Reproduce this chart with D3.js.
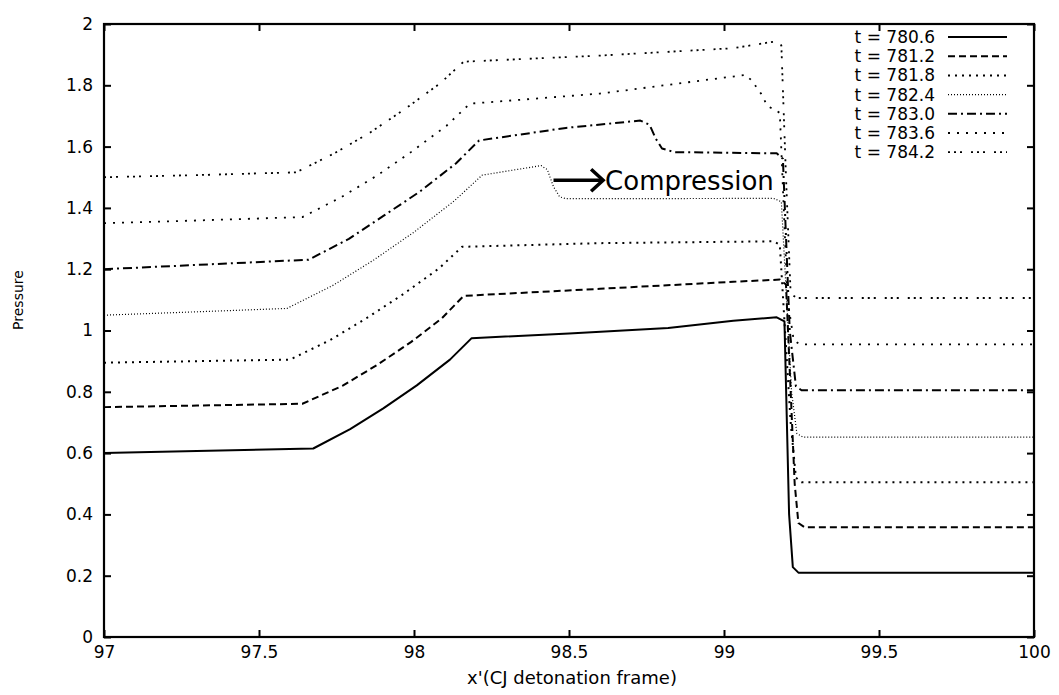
<!DOCTYPE html>
<html>
<head>
<meta charset="utf-8">
<script src="https://cdn.jsdelivr.net/npm/d3@7"></script>
<style>
  body { margin: 0; background: #fff; }
  svg { display: block; }
  .tick text { font-family: "DejaVu Sans", sans-serif; font-size: 17px; fill: #000; }
</style>
</head>
<body>
<svg id="chart" width="1059" height="695"></svg>
<script>
// Data
const xTicks = [97, 97.5, 98, 98.5, 99, 99.5, 100];
const yTicks = [0, 0.2, 0.4, 0.6, 0.8, 1, 1.2, 1.4, 1.6, 1.8, 2];

const times = ['780.6', '781.2', '781.8', '782.4', '783.0', '783.6', '784.2'];

// pressure profiles, [x', p]
const p_780_6 = [[97, 0.60], [97.3, 0.607], [97.675, 0.615], [97.794, 0.678], [97.901, 0.746], [98.009, 0.821],
  [98.116, 0.905], [98.186, 0.975], [98.5, 0.99], [98.82, 1.008], [99.03, 1.032], [99.17, 1.043],
  [99.195, 1.03], [99.21, 0.4], [99.222, 0.228], [99.24, 0.21], [100, 0.21]];
const p_781_2 = [[97, 0.75], [97.3, 0.755], [97.64, 0.761], [97.77, 0.82], [97.88, 0.887], [97.99, 0.962],
  [98.09, 1.04], [98.16, 1.113], [98.6, 1.136], [99.03, 1.159], [99.18, 1.166], [99.2, 1.15],
  [99.228, 0.5], [99.24, 0.372], [99.26, 0.358], [100, 0.358]];
const p_781_8 = [[97, 0.895], [97.3, 0.9], [97.6, 0.905], [97.73, 0.969], [97.845, 1.039], [97.96, 1.115],
  [98.08, 1.202], [98.155, 1.273], [98.6, 1.285], [99.16, 1.291], [99.18, 1.28], [99.215, 0.7],
  [99.232, 0.52], [99.25, 0.505], [100, 0.505]];
const p_782_4 = [[97, 1.05], [97.3, 1.061], [97.59, 1.072], [97.74, 1.148], [97.87, 1.23], [98.0, 1.321],
  [98.13, 1.423], [98.22, 1.507], [98.41, 1.538], [98.43, 1.525], [98.45, 1.469], [98.47, 1.436],
  [98.49, 1.43], [99.16, 1.431], [99.185, 1.42], [99.218, 0.8], [99.235, 0.664], [99.255, 0.652], [100, 0.652]];
const p_783_0 = [[97, 1.2], [97.3, 1.214], [97.66, 1.231], [97.79, 1.299], [97.9, 1.373], [98.02, 1.454],
  [98.135, 1.545], [98.21, 1.62], [98.49, 1.661], [98.73, 1.685], [98.76, 1.671], [98.78, 1.626],
  [98.8, 1.594], [98.84, 1.582], [99.17, 1.578], [99.19, 1.56], [99.212, 1.0], [99.232, 0.818],
  [99.25, 0.805], [100, 0.805]];
const p_783_6 = [[97, 1.35], [97.3, 1.359], [97.64, 1.37], [97.765, 1.435], [97.88, 1.505], [97.99, 1.582],
  [98.105, 1.668], [98.18, 1.74], [98.6, 1.773], [99.07, 1.834], [99.09, 1.815], [99.12, 1.772],
  [99.14, 1.732], [99.16, 1.722], [99.18, 1.71], [99.205, 1.1], [99.225, 0.968], [99.245, 0.955], [100, 0.955]];
const p_784_2 = [[97, 1.5], [97.3, 1.507], [97.62, 1.516], [97.745, 1.579], [97.86, 1.647], [97.97, 1.722],
  [98.085, 1.807], [98.16, 1.877], [98.6, 1.897], [99.03, 1.921], [99.17, 1.944], [99.185, 1.93],
  [99.2, 1.5], [99.215, 1.12], [99.235, 1.106], [100, 1.106]];

const profiles = [p_780_6, p_781_2, p_781_8, p_782_4, p_783_0, p_783_6, p_784_2];

// gnuplot-ish line types
const dashes = ['none', '7,4', '2,5', '1,2', '9,4,2,4', '2,7', '2,4,2,4,2,9'];
const widths = [2, 2, 2, 1.2, 2, 1.8, 1.8];

// Layout
const plot = { left: 104, right: 1034, top: 24, bottom: 637 };
const font = '"DejaVu Sans", sans-serif';

const svg = d3.select('#chart');

const x = d3.scaleLinear().domain([97, 100]).range([plot.left, plot.right]);
const y = d3.scaleLinear().domain([0, 2]).range([plot.bottom, plot.top]);

// axes (ticks point inward, mirrored on top/right)
svg.append('g')
  .attr('transform', `translate(0, ${plot.bottom})`)
  .call(d3.axisBottom(x).tickValues(xTicks).tickSize(-7).tickPadding(9).tickFormat(d => d));
svg.append('g')
  .attr('transform', `translate(0, ${plot.top})`)
  .call(d3.axisTop(x).tickValues(xTicks).tickSize(-7).tickFormat(''));
svg.append('g')
  .attr('transform', `translate(${plot.left}, 0)`)
  .call(d3.axisLeft(y).tickValues(yTicks).tickSize(-7).tickPadding(11).tickFormat(d => d));
svg.append('g')
  .attr('transform', `translate(${plot.right}, 0)`)
  .call(d3.axisRight(y).tickValues(yTicks).tickSize(-7).tickFormat(''));

svg.selectAll('.domain').remove();
svg.selectAll('.tick line').attr('stroke', '#000').attr('stroke-width', 2);

// frame
svg.append('rect')
  .attr('x', plot.left).attr('y', plot.top)
  .attr('width', plot.right - plot.left).attr('height', plot.bottom - plot.top)
  .attr('fill', 'none').attr('stroke', '#000').attr('stroke-width', 2.2);

// axis titles
svg.append('text')
  .attr('x', 572).attr('y', 684)
  .attr('text-anchor', 'middle')
  .attr('font-family', font).attr('font-size', 18)
  .text("x'(CJ detonation frame)");

svg.append('text')
  .attr('transform', `translate(23, 300) rotate(-90)`)
  .attr('text-anchor', 'middle')
  .attr('font-family', font).attr('font-size', 14)
  .text('Pressure');

// curves
const line = d3.line().x(d => x(d[0])).y(d => y(d[1]));

svg.append('g').selectAll('path.profile')
  .data(profiles)
  .join('path')
  .attr('class', 'profile')
  .attr('d', line)
  .attr('fill', 'none')
  .attr('stroke', '#000')
  .attr('stroke-width', (d, i) => widths[i])
  .attr('stroke-dasharray', (d, i) => dashes[i])
  .attr('stroke-linejoin', 'round');

// legend
const legend = svg.append('g');
times.forEach((t, i) => {
  const ly = 37 + i * 19.2;
  legend.append('text')
    .attr('x', 935).attr('y', ly + 6)
    .attr('text-anchor', 'end')
    .attr('font-family', font).attr('font-size', 17)
    .text('t = ' + t);
  legend.append('line')
    .attr('x1', 948).attr('x2', 1007)
    .attr('y1', ly).attr('y2', ly)
    .attr('stroke', '#000')
    .attr('stroke-width', widths[i])
    .attr('stroke-dasharray', dashes[i]);
});

// "Compression" annotation
const ax0 = x(98.45), ax1 = x(98.61), ay = y(1.49);
const note = svg.append('g');
note.append('line')
  .attr('x1', ax0).attr('x2', ax1 - 2).attr('y1', ay).attr('y2', ay)
  .attr('stroke', '#000').attr('stroke-width', 3.5);
note.append('path')
  .attr('d', `M${ax1 - 12},${ay - 11} L${ax1},${ay} L${ax1 - 12},${ay + 11}`)
  .attr('fill', 'none').attr('stroke', '#000').attr('stroke-width', 3.5)
  .attr('stroke-linejoin', 'miter');
note.append('text')
  .attr('x', ax1 + 2).attr('y', ay + 10)
  .attr('font-family', font).attr('font-size', 26)
  .text('Compression');
</script>
</body>
</html>
